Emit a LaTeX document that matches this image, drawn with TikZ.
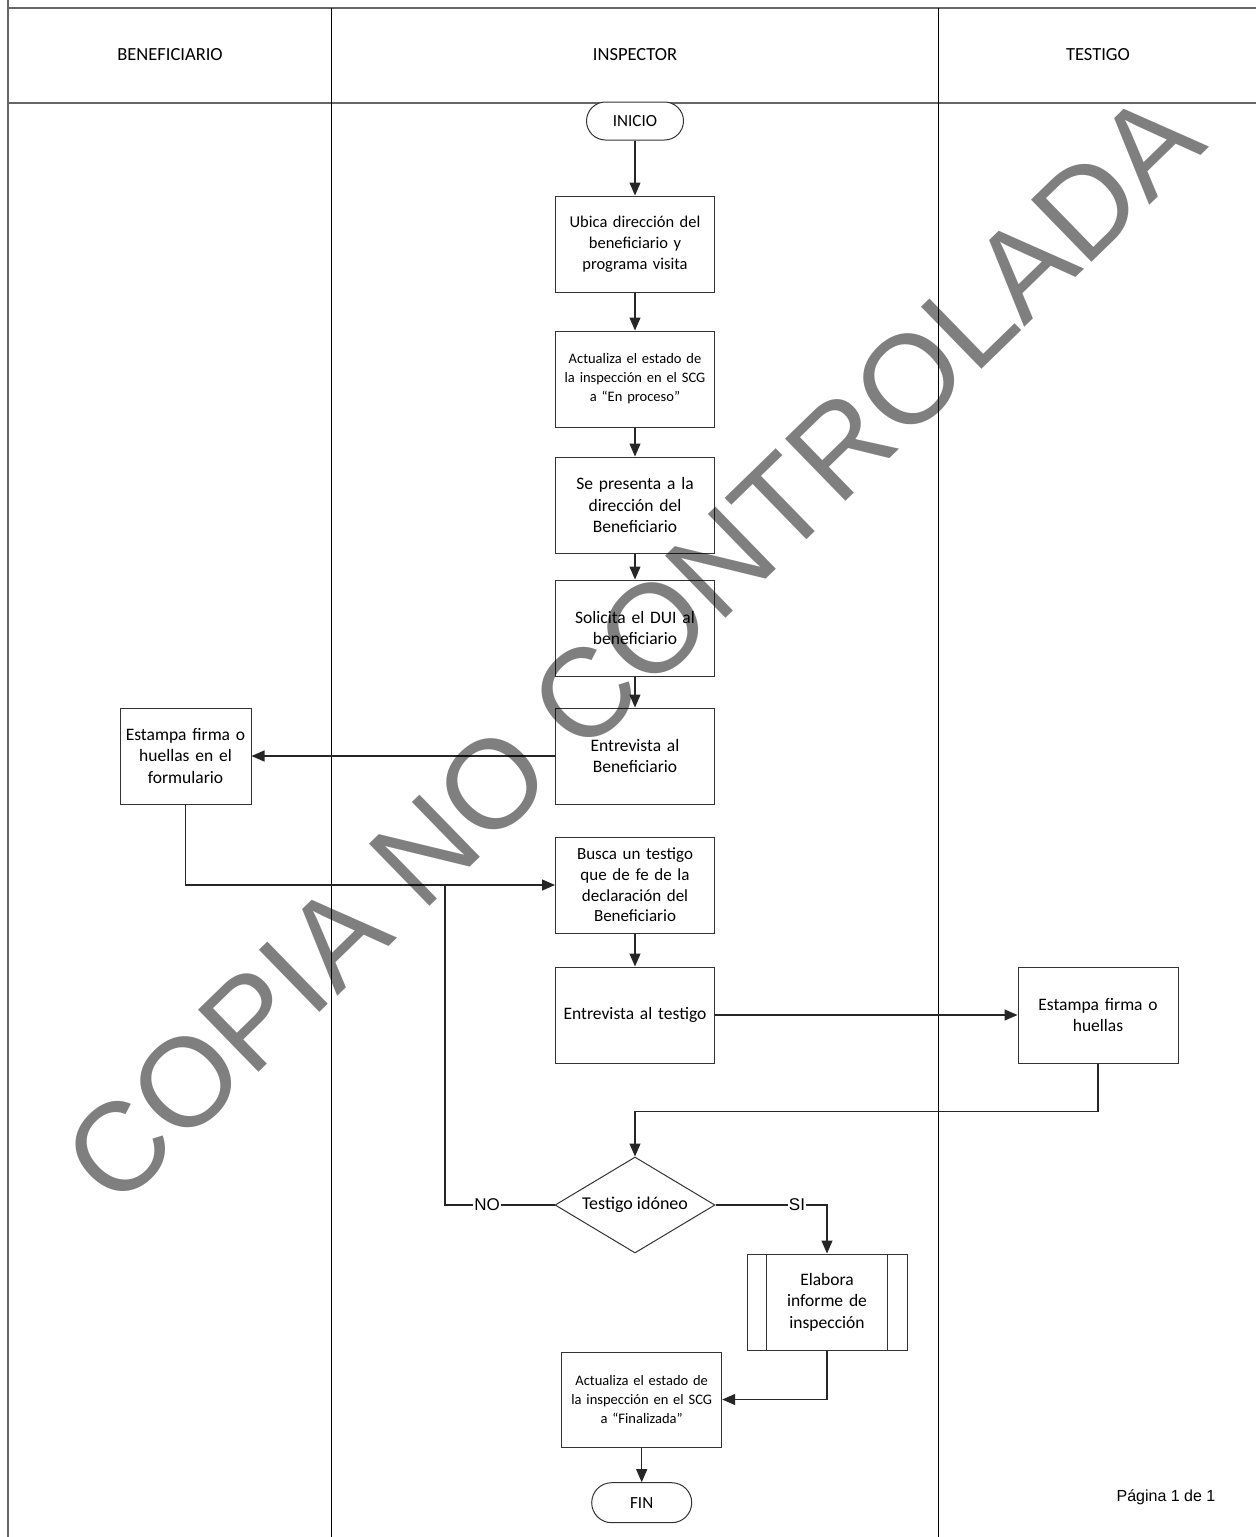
\documentclass[tikz,border=0pt]{standalone}
\usepackage{fontspec}
\setmainfont{Carlito}
\newfontfamily\arialf{Liberation Sans}
\usetikzlibrary{arrows.meta,shapes.geometric,calc}
\tikzset{
  hdr/.style={draw=black!60, line width=2pt},
  lane/.style={draw=black, line width=1pt},
  hdrtxt/.style={font=\fontsize{18.5}{21}\selectfont, inner sep=0pt},
  box/.style={draw=black!80, line width=1pt, fill=white, rectangle, minimum width=159pt, minimum height=96pt, inner sep=2pt, align=center, text width=152pt, font=\fontsize{17.5}{21.5}\selectfont},
  smallbox/.style={box, font=\fontsize{14.5}{19}\selectfont},
  term/.style={draw=black!80, line width=1pt, fill=white, rectangle, rounded corners=19pt, minimum width=97pt, minimum height=38pt, inner sep=0pt, font=\fontsize{17}{20}\selectfont},
  decision/.style={draw=black!80, line width=1pt, fill=white, diamond, aspect=1.67, minimum width=160pt, minimum height=96pt, inner sep=0pt, font=\fontsize{18}{21}\selectfont},
  arr/.style={draw=black!85, line width=1.2pt, -{Triangle[length=13pt,width=11pt]}},
  conn/.style={draw=black!85, line width=1.2pt},
  lbl/.style={fill=white, inner sep=1pt, font=\arialf\fontsize{17}{20}\selectfont},
}
\begin{document}
\begin{tikzpicture}[x=1pt,y=-1pt]
\useasboundingbox (0,0) rectangle (1256,1537);
\fill[white] (0,0) rectangle (1256,1537);
% frame and lanes
\draw[hdr] (8,0) -- (8,1537);
\draw[hdr] (8,8) -- (1256,8);
\draw[hdr] (8,103) -- (1256,103);
\draw[lane] (331,8) -- (331,1537);
\draw[lane] (938,8) -- (938,1537);
\node[hdrtxt] (hB) at (170,55) {BENEFICIARIO};
\node[hdrtxt] (hI) at (635,55) {INSPECTOR};
\node[hdrtxt] (hT) at (1098,55) {TESTIGO};

% nodes
\node[term] (ini) at (635,121) {INICIO};
\node[box, font=\fontsize{16.5}{21}\selectfont] (b1) at (635,244) {Ubica dirección del\\beneficiario y\\programa visita};
\node[smallbox] (b2) at (635,379) {Actualiza el estado de\\la inspección en el SCG\\a “En proceso”};
\node[box] (b3) at (635,505) {Se presenta a la\\dirección del\\Beneficiario};
\node[box] (b4) at (635,628) {Solicita el DUI al\\beneficiario};
\node[box] (b5) at (635,756) {Entrevista al\\Beneficiario};
\node[box, minimum width=131pt, text width=126pt] (est) at (185.5,756) {Estampa firma o\\huellas en el\\formulario};
\node[box, font=\fontsize{17}{20.7}\selectfont] (b6) at (635,885) {Busca un testigo\\que de fe de la\\declaración del\\Beneficiario};
\node[box] (b7) at (635,1015) {Entrevista al testigo};
\node[box, minimum width=160pt] (tst) at (1098,1015) {Estampa firma o\\huellas};
\node[decision] (dec) at (635,1205) {Testigo idóneo};
\node[box, minimum width=160pt, text width=110pt] (sp) at (827,1302) {Elabora\\informe de\\inspección};
\draw[draw=black!80, line width=1pt] ([xshift=20pt]sp.north west) -- ([xshift=20pt]sp.south west);
\draw[draw=black!80, line width=1pt] ([xshift=-20pt]sp.north east) -- ([xshift=-20pt]sp.south east);
\node[smallbox, minimum width=160pt, minimum height=95pt] (b8) at (641.7,1399.5) {Actualiza el estado de\\la inspección en el SCG\\a “Finalizada”};
\node[term, minimum width=100pt, minimum height=40pt, rounded corners=20pt] (fin) at (641.7,1502.7) {FIN};

% connectors
\draw[arr] (ini) -- (b1);
\draw[arr] (b1) -- (b2);
\draw[arr] (b2) -- (b3);
\draw[arr] (b3) -- (b4);
\draw[arr] (b4) -- (b5);
\draw[arr] (b5.west) -- (est.east);
\draw[arr] (est.south) |- (b6.west);
\draw[arr] (b6) -- (b7);
\draw[arr] (b7.east) -- (tst.west);
\draw[arr] (tst.south) -- ++(0,48) -| (dec.north);
\coordinate (nojoin) at (445,885);
\draw[conn] (dec.west) -| (nojoin);
\node[lbl] (no) at (487,1205) {NO};
\draw[arr] (dec.east) -| (sp.north);
\node[lbl] (si) at (797,1205) {SI};
\draw[arr] (sp.south) |- (b8.east);
\draw[arr] (b8) -- (fin);

\node[font=\arialf\fontsize{16}{18}\selectfont, inner sep=0pt] (pg) at (1166,1497) {Página 1 de 1};

% watermark
\node[rotate=44.2, font=\arialf\fontsize{126}{126}\selectfont, text=black, text opacity=0.5, inner sep=0pt] (wm) at (633,648) {COPIA NO CONTROLADA};
\end{tikzpicture}
\end{document}
